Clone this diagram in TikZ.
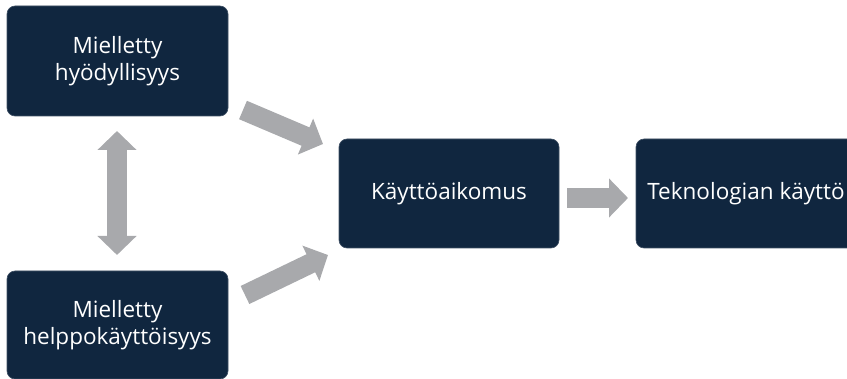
\documentclass[tikz,border=0pt]{standalone}
\usepackage{fontspec}
\setmainfont{Open Sans}
\usetikzlibrary{arrows.meta}
\definecolor{navy}{HTML}{10263F}
\definecolor{arrowgray}{HTML}{A8A9AC}
\begin{document}
\begin{tikzpicture}[x=1pt,y=-1pt,
  box/.style={fill=navy,draw=navy!80!white,line width=0.6pt,rounded corners=8pt,text=white,align=center,font=\fontsize{22.5}{27}\selectfont,inner sep=0pt},
  blockarrow/.style={draw=arrowgray,line width=20pt,-{Triangle[width=38pt,length=19pt]}},
  dblarrow/.style={draw=arrowgray,line width=20pt,{Triangle[width=38pt,length=19pt]}-{Triangle[width=38pt,length=19pt]}}]
\useasboundingbox (0,0) rectangle (847,379);
\clip (0,0) rectangle (847,379);
\node[box,minimum width=221pt,minimum height=110pt] (pu) at (117.5,61) {Mielletty\\hyödyllisyys};
\node[box,minimum width=221pt,minimum height=108pt] (pe) at (117.5,325) {Mielletty\\helppokäyttöisyys};
\node[box,minimum width=220pt,minimum height=109pt] (bi) at (449,193.5) {Käyttöaikomus};
\node[box,minimum width=220pt,minimum height=109pt] (use) at (746,193.5) {Teknologian käyttö};
\coordinate (a1s) at (243,110);
\coordinate (a1e) at (323,144);
\coordinate (a2s) at (245,295);
\coordinate (a2e) at (328,255);
\coordinate (a3s) at (567,198);
\coordinate (a3e) at (628,198);
\coordinate (dtop) at (117,131);
\coordinate (dbot) at (117,255);
\draw[blockarrow] (a1s) -- (a1e);
\draw[blockarrow] (a2s) -- (a2e);
\draw[blockarrow] (a3s) -- (a3e);
\draw[dblarrow] (dtop) -- (dbot);
\end{tikzpicture}
\end{document}
